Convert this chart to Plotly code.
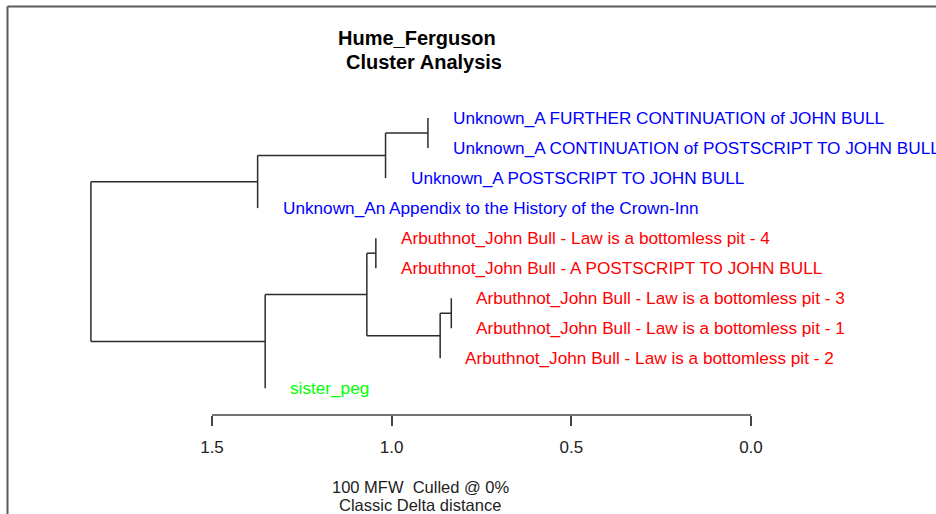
import plotly.graph_objects as go

# leaves, top to bottom
leaf_labels = [
    "Unknown_A FURTHER CONTINUATION of JOHN BULL",
    "Unknown_A CONTINUATION of POSTSCRIPT TO JOHN BULL",
    "Unknown_A POSTSCRIPT TO JOHN BULL",
    "Unknown_An Appendix to the History of the Crown-Inn",
    "Arbuthnot_John Bull - Law is a bottomless pit - 4",
    "Arbuthnot_John Bull - A POSTSCRIPT TO JOHN BULL",
    "Arbuthnot_John Bull - Law is a bottomless pit - 3",
    "Arbuthnot_John Bull - Law is a bottomless pit - 1",
    "Arbuthnot_John Bull - Law is a bottomless pit - 2",
    "sister_peg",
]
leaf_colors = ["#0000ff"] * 4 + ["#ff0000"] * 5 + ["#00ff00"]

# internal nodes (name, children, height); leaves referred to by index
node_names = ["n1", "n2", "n3", "n4", "n5", "n6", "n7", "n8", "root"]
node_children = [
    [0, 1],
    ["n1", 2],
    ["n2", 3],
    [4, 5],
    [6, 7],
    ["n5", 8],
    ["n4", "n6"],
    ["n7", 9],
    ["n3", "n8"],
]
node_heights = [0.899, 1.017, 1.373, 1.044, 0.834, 0.865, 1.069, 1.352, 1.837]

tick_vals = [1.5, 1.0, 0.5, 0.0]
tick_text = ["1.5", "1.0", "0.5", "0.0"]

# --- layout of the tree ---
pos_y = {i: i + 1 for i in range(len(leaf_labels))}
pos_x = {}
xs, ys = [], []
for name, kids, h in zip(node_names, node_children, node_heights):
    kid_y = [pos_y[k] for k in kids]
    pos_y[name] = (min(kid_y) + max(kid_y)) / 2
    pos_x[name] = h
    for k in kids:
        if k not in pos_x:  # leaf: tip sits at its parent's height
            pos_x[k] = h
        xs += [h, pos_x[k], None]
        ys += [pos_y[k], pos_y[k], None]
    xs += [h, h, None]
    ys += [min(kid_y), max(kid_y), None]

fig = go.Figure()
fig.add_trace(go.Scatter(x=xs, y=ys, mode="lines",
                         line=dict(color="#2b2b2b", width=1.5),
                         hoverinfo="skip", showlegend=False))

font = "Liberation Sans, Arial, sans-serif"
for i, (lab, col) in enumerate(zip(leaf_labels, leaf_colors)):
    fig.add_annotation(x=pos_x[i], y=pos_y[i], text=lab, showarrow=False,
                       xanchor="left", yanchor="middle", xshift=23,
                       font=dict(family=font, size=17.2, color=col))

# titles and captions (plot area is 415 px tall)
H = 415
captions = [
    ("<b>Hume_Ferguson</b>", 416.7, 38, 20, "black"),
    ("<b>Cluster Analysis</b>", 424, 61.5, 20, "black"),
    ("100 MFW \u00a0Culled @ 0%", 421, 487, 16.5, "#222"),
    ("Classic Delta distance", 420, 505, 16.5, "#222"),
]
for txt, px, py, sz, col in captions:
    fig.add_annotation(x=px / 936, y=(H - py) / H, xref="paper", yref="paper",
                       text=txt, showarrow=False, xanchor="center", yanchor="middle",
                       font=dict(family=font, size=sz, color=col))

# axis line only across the tick range (R style)
fig.add_shape(type="line", xref="x", yref="paper", x0=max(tick_vals), x1=min(tick_vals),
              y0=0, y1=0, line=dict(color="#444", width=1.5))
# frame of the screenshot
fig.add_shape(type="line", xref="paper", yref="paper", x0=7.5 / 936, x1=1.01,
              y0=1 - 6.5 / H, y1=1 - 6.5 / H, line=dict(color="#5a5a5a", width=2))
fig.add_shape(type="line", xref="paper", yref="paper", x0=7.5 / 936, x1=7.5 / 936,
              y0=1 - 6.5 / H, y1=-0.25, line=dict(color="#5a5a5a", width=2))

fig.update_layout(
    width=936, height=514,
    margin=dict(l=0, r=0, t=0, b=99),
    paper_bgcolor="white", plot_bgcolor="white",
    xaxis=dict(range=[2.090, -0.515], tickvals=tick_vals, ticktext=tick_text,
               ticks="outside", ticklen=10, tickwidth=1.5, tickcolor="#444",
               ticklabelstandoff=7,
               showline=False, showgrid=False, zeroline=False,
               tickfont=dict(family=font, size=17, color="#222")),
    yaxis=dict(range=[10.887, -2.928], visible=False),
)

# drop the page's default body margin so the figure sits at the window corner
fig.write_html("out.html", config={"displayModeBar": False},
               post_script="document.body.style.margin='0';document.body.style.overflow='hidden';")
